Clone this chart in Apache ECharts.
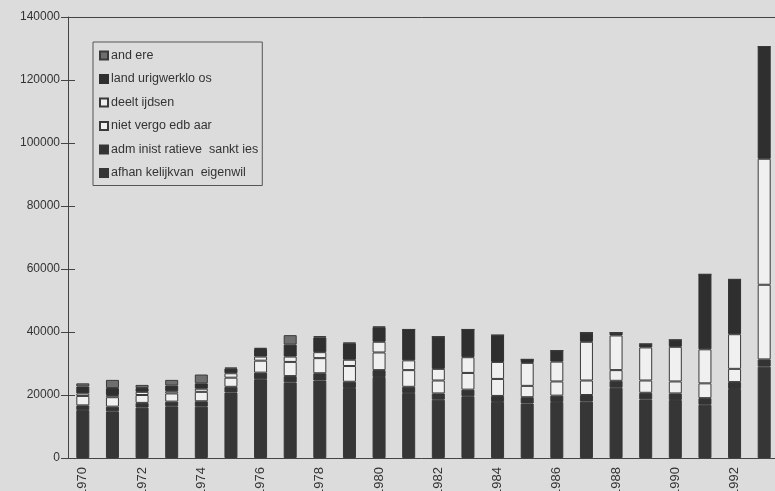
<!DOCTYPE html>
<html>
<head>
<meta charset="utf-8">
<script src="https://cdn.jsdelivr.net/npm/echarts@6/dist/echarts.min.js"></script>
<style>
html,body{margin:0;padding:0;background:#dcdcdc;}
#c{width:775px;height:491px;}
</style>
</head>
<body>
<div id="c"></div>
<script>
var years = ['1970','1971','1972','1973','1974','1975','1976','1977','1978','1979','1980','1981','1982','1983','1984','1985','1986','1987','1988','1989','1990','1991','1992','1993'];
var afhankelijk = [15200,14800,16000,16400,16300,20800,25000,24000,24600,22200,25700,20600,18500,19600,17800,17300,17800,17900,22300,18600,18400,16900,21900,29000];
var administratief = [1500,1500,1500,1500,1700,1800,2100,2000,2300,2000,2200,2000,2000,2100,1900,2000,2000,2100,2200,2100,2100,2100,2200,2300];
var nietVergoedbaar = [3000,3000,2500,2600,3000,2900,3800,4500,4800,5000,5600,5300,4100,5300,5400,3600,4500,4600,3400,3900,3800,4700,4200,23700];
var deeltijdsen = [800,700,1000,700,1000,1400,1300,1700,1900,2000,3400,3100,3700,5000,5400,7300,6300,12300,11000,10500,11000,10800,11000,40000];
var langdurig = [2200,2200,1200,1800,1700,1500,2400,3800,4700,5200,4600,9800,10200,8800,8500,1100,3500,2900,900,1100,2200,23800,17400,35600];
var andere = [1000,2600,1000,1800,2800,300,400,3000,400,200,200,0,0,0,0,0,0,0,0,0,0,0,0,0];
var yTicks = {min:0, max:140000, interval:20000};

var names = {
  andere: 'and ere',
  lang: 'land urigwerklo os',
  deel: 'deelt ijdsen',
  niet: 'niet vergo edb aar',
  adm: 'adm inist ratieve  sankt ies',
  afh: 'afhan kelijkvan  eigenwil'
};
var FF = 'Liberation Sans, Arial, sans-serif';
function ser(name, data, color, border){
  return {
    name: name, type: 'bar', stack: 'tot', data: data, barWidth: 13,
    itemStyle: {color: color, borderColor: border, borderWidth: 1}
  };
}
var chart = echarts.init(document.getElementById('c'));
chart.setOption({
  backgroundColor: '#dcdcdc',
  animation: false,
  textStyle: {fontFamily: FF},
  grid: {left: 68, top: 17, width: 711, bottom: 33, containLabel: false, outerBoundsMode: 'none'},
  legend: {
    orient: 'vertical', left: 93, top: 42,
    icon: 'rect',
    itemWidth: 8, itemHeight: 8, itemGap: 10.5,
    padding: [7, 4, 6, 6],
    borderColor: '#555', borderWidth: 1,
    textStyle: {fontFamily: FF, fontSize: 12.5, color: '#333', padding: [0,0,0,-2]},
    data: [names.andere, names.lang, names.deel, names.niet, names.adm, names.afh]
  },
  xAxis: [{
    type: 'category', data: years, position: 'bottom',
    axisLine: {lineStyle: {color: '#444'}},
    axisTick: {interval: 0, length: 4, lineStyle: {color: '#444'}},
    axisLabel: {interval: 1, rotate: 90, fontSize: 13, color: '#333', margin: 9, fontFamily: FF}
  }, {
    type: 'category', data: years, position: 'bottom',
    axisLine: {show: false},
    axisTick: {interval: 0, length: 3, inside: true, lineStyle: {color: '#444'}},
    axisLabel: {show: false}
  }, {
    type: 'category', data: years, position: 'top',
    axisLine: {show: true, lineStyle: {color: '#444'}},
    axisTick: {show: false}, axisLabel: {show: false}
  }],
  yAxis: [{
    type: 'value', min: yTicks.min, max: yTicks.max, interval: yTicks.interval,
    axisLine: {show: true, lineStyle: {color: '#444'}},
    axisTick: {show: true, length: 7, lineStyle: {color: '#444'}},
    axisLabel: {fontSize: 12, color: '#333', margin: 8, fontFamily: FF,
      formatter: function(v){ return String(v); }},
    splitLine: {show: false}
  }, {
    type: 'value', min: yTicks.min, max: yTicks.max, interval: yTicks.interval, position: 'left',
    axisLine: {show: false},
    axisTick: {show: true, inside: true, length: 7, lineStyle: {color: '#444'}},
    axisLabel: {show: false}, splitLine: {show: false}
  }],
  series: [
    ser(names.afh, afhankelijk, '#363636', '#363636'),
    ser(names.adm, administratief, '#333333', '#363636'),
    ser(names.niet, nietVergoedbaar, '#f0f0f0', '#3a3a3a'),
    ser(names.deel, deeltijdsen, '#f0f0f0', '#3a3a3a'),
    ser(names.lang, langdurig, '#2f2f2f', '#2f2f2f'),
    ser(names.andere, andere, '#6e6e6e', '#3a3a3a')
  ]
});
</script>
</body>
</html>
